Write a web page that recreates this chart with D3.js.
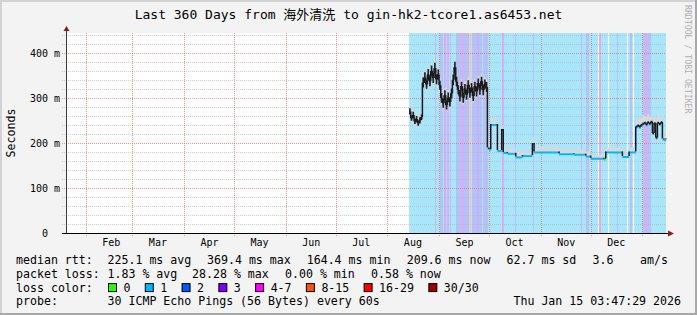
<!DOCTYPE html>
<html>
<head>
<meta charset="utf-8">
<script src="https://cdn.jsdelivr.net/npm/d3@7/dist/d3.min.js"></script>
<style>
  body { margin: 0; background: #f3f3f3; }
  svg text { font-family: "DejaVu Sans Mono", "Noto Sans CJK SC", monospace; white-space: pre; }
</style>
</head>
<body>
<svg id="chart" width="697" height="315"></svg>
<script>
// window shown by the graph
const startTime = "2025-01-20 03:47";
const endTime = "2026-01-15 03:47";

const title = "Last 360 Days from 海外清洗 to gin-hk2-tcore1.as6453.net";
const yLabel = "Seconds";
const watermark = "RRDTOOL / TOBI OETIKER";

const monthLabels = ["Feb", "Mar", "Apr", "May", "Jun", "Jul", "Aug", "Sep", "Oct", "Nov", "Dec"];
const yTicks = [0, 100, 200, 300, 400];
const yTickLabels = ["0  ", "100 m", "200 m", "300 m", "400 m"];

// median rtt (ms) + smoke, one entry per date (step after)
const dates = [
  "2025-08-14", "2025-08-15", "2025-08-16", "2025-08-17", "2025-08-18", "2025-08-19", "2025-08-20", "2025-08-21", "2025-08-22",
  "2025-08-23", "2025-08-24", "2025-08-25", "2025-08-26", "2025-08-27", "2025-08-28", "2025-08-29", "2025-08-30", "2025-08-31",
  "2025-09-01", "2025-09-02", "2025-09-03", "2025-09-04", "2025-09-05", "2025-09-06", "2025-09-07", "2025-09-08", "2025-09-09",
  "2025-09-10", "2025-09-11", "2025-09-12", "2025-09-13", "2025-09-14", "2025-09-15", "2025-09-16", "2025-09-17", "2025-09-18",
  "2025-09-19", "2025-09-20", "2025-09-21", "2025-09-22", "2025-09-23", "2025-09-24", "2025-09-25", "2025-09-26", "2025-09-27",
  "2025-09-28", "2025-09-29", "2025-09-30",
  "2025-10-01", "2025-10-02", "2025-10-06", "2025-10-08 14:00", "2025-10-09 12:00", "2025-10-12", "2025-10-17", "2025-10-21",
  "2025-10-27", "2025-10-28",
  "2025-11-12", "2025-11-21", "2025-11-28",
  "2025-12-01", "2025-12-09", "2025-12-10", "2025-12-20", "2025-12-24", "2025-12-28", "2025-12-29", "2025-12-30", "2025-12-31",
  "2026-01-01", "2026-01-02", "2026-01-03", "2026-01-04", "2026-01-05", "2026-01-06", "2026-01-07", "2026-01-08", "2026-01-09",
  "2026-01-10", "2026-01-11", "2026-01-12", "2026-01-13", "2026-01-14", "2026-01-15 03:47"
];
const median = [
  270, 255, 262, 248, 253, 244, 250, 257, 334, 345, 330, 352, 337, 360, 344, 366, 341, 352,
  328, 300, 288, 306, 284, 301, 291, 310, 340, 368, 336, 318, 303, 326, 300, 321, 307, 329, 311, 323, 304, 326, 314, 333, 318, 337, 317, 331, 324, 190,
  186, 242, 184, 231, 180, 178, 170, 173, 200, 181,
  177, 176, 172,
  167, 165, 181, 171, 181, 236, 239, 236, 240,
  243, 245, 241, 246, 243, 247, 222, 244, 212, 245, 242, 246, 210, 208,
  210
];
const smokeHi = [
  284, 268, 276, 262, 266, 258, 262, 270, 350, 362, 348, 370, 354, 378, 360, 382, 358, 368,
  345, 318, 305, 322, 300, 318, 308, 326, 356, 384, 352, 334, 320, 342, 318, 337, 324, 345, 328, 340, 322, 342, 331, 349, 335, 352, 334, 347, 340, 200,
  195, 254, 192, 240, 190, 188, 180, 181, 212, 191,
  186, 185, 181,
  174, 172, 190, 178, 189, 250, 255, 252, 258,
  262, 260, 258, 264, 258, 262, 250, 260, 248, 262, 256, 262, 222, 216,
  218
];
const smokeLo = [
  258, 244, 250, 238, 241, 234, 239, 246, 318, 330, 314, 336, 322, 344, 328, 350, 326, 336,
  312, 284, 272, 290, 270, 286, 276, 294, 324, 350, 320, 302, 288, 310, 285, 305, 292, 313, 296, 307, 289, 310, 298, 317, 302, 321, 302, 315, 308, 186,
  183, 239, 181, 226, 178, 176, 168, 171, 190, 179,
  175, 174, 170,
  165, 163, 179, 169, 179, 232, 235, 232, 236,
  238, 240, 237, 241, 239, 242, 216, 240, 207, 240, 238, 241, 206, 205,
  206
];
// half height (ms) of the dense dark part of the smoke
const coreHalf = [
  7, 6, 7, 6, 7, 6, 7, 6, 11, 12, 10, 12, 11, 12, 11, 12, 11, 11,
  10, 11, 10, 11, 10, 11, 10, 11, 12, 12, 11, 10, 11, 10, 11, 10, 11, 10, 11, 10, 11, 10, 11, 10, 11, 10, 11, 10, 11, 0,
  0, 0, 0, 0, 0, 0, 0, 0, 0, 0,
  0, 0, 0,
  0, 0, 0, 0, 0, 2, 2, 2, 2,
  2, 2, 2, 2, 2, 2, 2, 2, 2, 2, 2, 2, 0, 0,
  0
];
// loss class of the median line (index into lossLabels)
const medianLoss = [
  1, 1, 1, 1, 1, 1, 1, 1, 1, 1, 1, 1, 3, 1, 1, 1, 1, 1,
  1, 1, 1, 1, 1, 1, 1, 1, 1, 1, 1, 1, 1, 1, 1, 1, 1, 1, 1, 1, 1, 1, 1, 1, 1, 1, 1, 1, 1, 1,
  1, 1, 1, 3, 1, 1, 1, 1, 1, 1,
  1, 1, 1,
  1, 0, 1, 1, 1, 1, 1, 1, 1,
  1, 1, 1, 1, 1, 1, 1, 1, 1, 1, 1, 1, 1, 1,
  1
];

// loss background bands (null = no colour)
const bandStart = [
  "2025-08-14 00:00", "2025-08-29 16:00", "2025-09-01 13:00", "2025-09-03 23:00", "2025-09-05 18:00", "2025-09-07 13:00",
  "2025-09-11 04:00", "2025-09-14 18:00", "2025-09-15 23:00", "2025-09-18 23:00", "2025-09-20 18:00", "2025-09-23 18:00",
  "2025-09-24 23:00", "2025-09-27 09:00", "2025-10-08 18:00", "2025-10-16 13:00", "2025-10-27 09:00", "2025-11-25 04:00",
  "2025-11-28 04:00", "2025-12-05 09:00", "2025-12-06 00:00", "2025-12-11 09:00", "2025-12-16 18:00", "2025-12-22 18:00",
  "2025-12-24 13:00", "2025-12-26 09:00", "2026-01-01 09:00", "2026-01-02 14:00", "2026-01-03 18:00"
];
const bandEnd = [
  "2026-01-15 03:47", "2025-08-30 07:00", "2025-09-03 09:00", "2025-09-05 04:00", "2025-09-06 23:00", "2025-09-08 04:00",
  "2025-09-14 18:00", "2025-09-15 23:00", "2025-09-18 23:00", "2025-09-20 04:00", "2025-09-23 18:00", "2025-09-24 23:00",
  "2025-09-26 18:00", "2025-09-30 09:00", "2025-10-09 23:00", "2025-10-17 04:00", "2025-10-28 00:00", "2025-11-25 19:00",
  "2025-11-29 23:00", "2025-12-06 00:00", "2025-12-07 04:00", "2025-12-12 00:00", "2025-12-17 09:00", "2025-12-23 09:00",
  "2025-12-25 16:00", "2025-12-27 00:00", "2026-01-02 14:00", "2026-01-03 18:00", "2026-01-06 04:00"
];
const bandLevel = [1, 2, 2, 3, 4, 2, 2, 4, 2, 5, 2, 3, 2, 2, 4, 2, 2, 2, 2, null, 4, null, 2, null, 2, null, 2, 4, 2];

const lossLabels = ["0", "1", "2", "3", "4-7", "8-15", "16-29", "30/30"];
const lossColors = ["#26ff00", "#00b8ff", "#0059ff", "#7a00ff", "#ff00ff", "#ff5500", "#ff0000", "#a00000"];
const lossTints = ["#c8ffb8", "#a9e5fb", "#b4c2f8", "#c8b1f7", "#e2aaf4", "#f6c3c3", "#ffb0b0", "#e0b0b0"];

const rttTitle = "median rtt:";
const rttStats = ["225.1 ms avg", "369.4 ms max", "164.4 ms min", "209.6 ms now", "62.7 ms sd", "3.6", "am/s"];
const lossTitle = "packet loss:";
const lossStats = ["1.83 % avg", "28.28 % max", "0.00 % min", "0.58 % now"];
const colorTitle = "loss color:";
const probeTitle = "probe:";
const probeText = "30 ICMP Echo Pings (56 Bytes) every 60s";
const stampText = "Thu Jan 15 03:47:29 2026";

const parseTime = s => d3.timeParse(s.length > 10 ? "%Y-%m-%d %H:%M" : "%Y-%m-%d")(s);

const svg = d3.select("#chart");
const pL = 66, pR = 666, pT = 33, pB = 233;

const x = d3.scaleTime().domain([parseTime(startTime), parseTime(endTime)]).range([pL, pR]);
const y = d3.scaleLinear().domain([0, 444]).range([pB, pT]);
const px = v => Math.round(v) + 0.5;

// frame
svg.append("rect").attr("width", 697).attr("height", 315).attr("fill", "#f3f3f3");
svg.append("path").attr("d", "M1,315V1H697").attr("fill", "none").attr("stroke", "#d2d2d2").attr("stroke-width", 2);
svg.append("path").attr("d", "M0,314H696V0").attr("fill", "none").attr("stroke", "#a8a8a8").attr("stroke-width", 2);
svg.append("rect").attr("x", pL).attr("y", pT).attr("width", pR - pL).attr("height", pB - pT).attr("fill", "#fff");

// loss background
svg.append("g").attr("shape-rendering", "crispEdges")
  .selectAll("rect").data(bandLevel).join("rect")
  .attr("x", (d, i) => x(parseTime(bandStart[i])))
  .attr("width", (d, i) => x(parseTime(bandEnd[i])) - x(parseTime(bandStart[i])))
  .attr("y", pT).attr("height", pB - pT)
  .attr("fill", d => d == null ? "#ffffff" : lossTints[d]);

// grid
const minor = d3.range(20, 441, 20).filter(v => v % 100 !== 0);
svg.append("g").selectAll("line").data(minor).join("line")
  .attr("x1", pL - 4).attr("x2", pR)
  .attr("y1", d => px(y(d))).attr("y2", d => px(y(d)))
  .attr("stroke", "#b0b0b0").attr("stroke-opacity", 0.6).attr("stroke-dasharray", "1,1");
svg.append("g").selectAll("line").data(yTicks.filter(v => v > 0)).join("line")
  .attr("x1", pL - 4).attr("x2", pR)
  .attr("y1", d => px(y(d))).attr("y2", d => px(y(d)))
  .attr("stroke", "#e86868").attr("stroke-opacity", 0.7).attr("stroke-dasharray", "1,1");
const monthStarts = d3.timeMonth.range(d3.timeMonth.ceil(x.domain()[0]), x.domain()[1]);
svg.append("g").selectAll("line").data(monthStarts).join("line")
  .attr("x1", d => px(x(d))).attr("x2", d => px(x(d)))
  .attr("y1", pT).attr("y2", pB + 3)
  .attr("stroke", "#e86868").attr("stroke-opacity", 0.7).attr("stroke-dasharray", "1,1");

// smoke
const idx = d3.range(dates.length);
const t = idx.map(i => parseTime(dates[i]));
svg.append("path")
  .attr("d", d3.area().curve(d3.curveStepAfter)
    .x(i => x(t[i])).y0(i => y(smokeLo[i])).y1(i => y(smokeHi[i]))(idx))
  .attr("fill", "#d8d8d8");

// median, coloured by loss
svg.append("g").selectAll("line").data(idx.slice(0, -1)).join("line")
  .attr("x1", i => x(t[i])).attr("x2", i => x(t[i + 1]))
  .attr("y1", i => y(median[i]) + 1).attr("y2", i => y(median[i]) + 1)
  .attr("stroke", i => lossColors[medianLoss[i]]).attr("stroke-width", 2);

// dense dark core of the smoke
svg.append("path")
  .attr("d", d3.area().curve(d3.curveStepAfter)
    .x(i => x(t[i])).y0(i => y(median[i] - coreHalf[i])).y1(i => y(median[i] + coreHalf[i]))(idx))
  .attr("fill", "#222");

// vertical jumps
svg.append("g").selectAll("line").data(idx.slice(1)).join("line")
  .attr("x1", i => x(t[i])).attr("x2", i => x(t[i]))
  .attr("y1", i => y(median[i - 1])).attr("y2", i => y(median[i]))
  .attr("stroke", "#1a1a1a").attr("stroke-width", 1.5);

// axes
svg.append("line").attr("x1", pL + 0.5).attr("x2", pL + 0.5).attr("y1", pB).attr("y2", 29)
  .attr("stroke", "#3a3a3a");
svg.append("path").attr("d", `M${pL - 2.5},31L${pL + 0.5},26L${pL + 3.5},31Z`).attr("fill", "#8c1c1c");
svg.append("line").attr("x1", pL - 4).attr("x2", 669).attr("y1", pB + 0.5).attr("y2", pB + 0.5)
  .attr("stroke", "#000");
svg.append("path").attr("d", `M668,${pB - 2.5}L674,${pB + 0.5}L668,${pB + 3.5}Z`).attr("fill", "#8c1c1c");

const yAxis = d3.axisLeft(y).tickValues(yTicks).tickFormat((d, i) => yTickLabels[i]).tickSize(0).tickPadding(6);
svg.append("g").attr("transform", `translate(${pL},0)`).call(yAxis)
  .attr("font-size", 10)
  .call(g => g.select(".domain").remove())
  .selectAll("text").attr("fill", "#000");

const labelDates = monthStarts.map(m => d3.timeDay.offset(m, 15)).filter(d => d < x.domain()[1]);
const xAxis = d3.axisBottom(x).tickValues(labelDates).tickFormat((d, i) => monthLabels[i]).tickSize(0).tickPadding(6);
svg.append("g").attr("transform", `translate(0,${pB})`).call(xAxis)
  .attr("font-size", 10)
  .call(g => g.select(".domain").remove())
  .selectAll("text").attr("fill", "#000");

// titles
svg.append("text").attr("x", 348.5).attr("y", 19).attr("text-anchor", "middle")
  .attr("font-size", 13).text(title);
svg.append("text").attr("transform", "translate(14.5,133) rotate(-90)").attr("text-anchor", "middle")
  .attr("font-size", 11.6).text(yLabel);
svg.append("text").attr("transform", "translate(685,5) rotate(90)")
  .attr("font-size", 8.2).attr("fill", "#b0b0b0").text(watermark);

// legend
const fs = 11.6, cw = fs * 0.602;
const legend = svg.append("g").attr("font-size", fs);
const row = [263.5, 277.8, 291.6, 305.4];
legend.append("text").attr("x", 16).attr("y", row[0]).text(rttTitle);
const rttX = [107.5, 207, 306.7, 406.7, 506.5, 592.5, 640];
legend.selectAll(".rtt").data(rttStats).join("text").attr("class", "rtt")
  .attr("x", (d, i) => rttX[i]).attr("y", row[0]).text(d => d);

legend.append("text").attr("x", 16).attr("y", row[1]).text(lossTitle);
const lossX = [107.5, 192, 285, 371];
legend.selectAll(".loss").data(lossStats).join("text").attr("class", "loss")
  .attr("x", (d, i) => lossX[i]).attr("y", row[1]).text(d => d);

legend.append("text").attr("x", 16).attr("y", row[2]).text(colorTitle);
let cx = 108;
lossLabels.forEach((lab, i) => {
  legend.append("rect").attr("x", cx + 0.5).attr("y", row[2] - 8).attr("width", 8).attr("height", 8)
    .attr("fill", lossColors[i]).attr("stroke", "#000");
  legend.append("text").attr("x", cx + 15.5).attr("y", row[2]).text(lab);
  cx += 15.5 + lab.length * cw + 14.3;
});

legend.append("text").attr("x", 16).attr("y", row[3]).text(probeTitle);
legend.append("text").attr("x", 107.5).attr("y", row[3]).text(probeText);
legend.append("text").attr("x", 681).attr("y", row[3]).attr("text-anchor", "end").text(stampText);
</script>
</body>
</html>
